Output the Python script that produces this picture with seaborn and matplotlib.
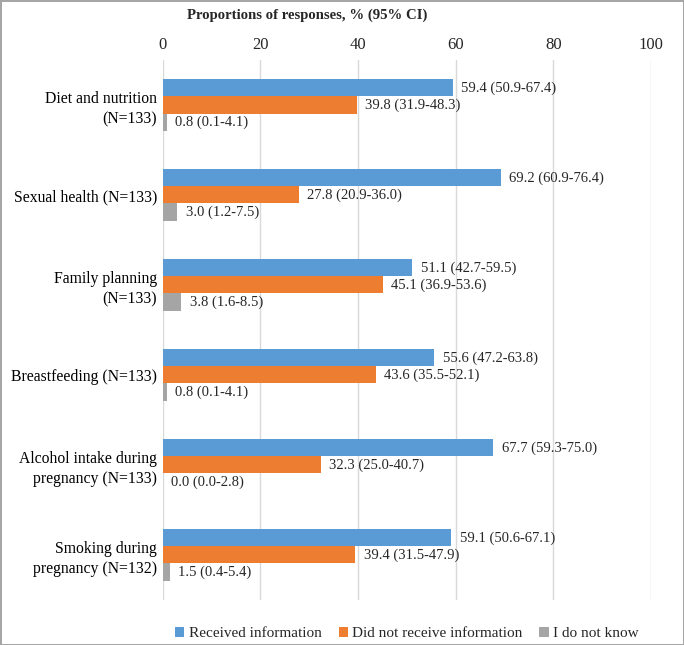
import pandas as pd
import matplotlib.pyplot as plt
import seaborn as sns

topics = [
    "Diet and nutrition\n(N=133)",
    "Sexual health (N=133)",
    "Family planning\n(N=133)",
    "Breastfeeding (N=133)",
    "Alcohol intake during\npregnancy (N=133)",
    "Smoking during\npregnancy (N=132)",
]
responses = ["Received information", "Did not receive information", "I do not know"]

received = [59.4, 69.2, 51.1, 55.6, 67.7, 59.1]
received_ci = ["50.9-67.4", "60.9-76.4", "42.7-59.5", "47.2-63.8", "59.3-75.0", "50.6-67.1"]
not_received = [39.8, 27.8, 45.1, 43.6, 32.3, 39.4]
not_received_ci = ["31.9-48.3", "20.9-36.0", "36.9-53.6", "35.5-52.1", "25.0-40.7", "31.5-47.9"]
dont_know = [0.8, 3.0, 3.8, 0.8, 0.0, 1.5]
dont_know_ci = ["0.1-4.1", "1.2-7.5", "1.6-8.5", "0.1-4.1", "0.0-2.8", "0.4-5.4"]

colors = ["#5B9BD5", "#ED7D31", "#A5A5A5"]

series = [(received, received_ci), (not_received, not_received_ci), (dont_know, dont_know_ci)]
rows = []
for resp, (vals, cis) in zip(responses, series):
    for t, v, ci in zip(topics, vals, cis):
        rows.append({"topic": t, "response": resp, "value": v, "ci": ci})
df = pd.DataFrame(rows)

sns.set_theme(style="white")
plt.rcParams["font.family"] = ["Liberation Serif", "DejaVu Serif"]

fig = plt.figure(figsize=(6.84, 6.45), dpi=100)
ax = fig.add_axes([0.238, 0.070, 0.714, 0.837])

sns.barplot(data=df, y="topic", x="value", hue="response", orient="h",
            order=topics, hue_order=responses, palette=colors,
            width=0.57, linewidth=0, saturation=1, errorbar=None, ax=ax)

for cont, (vals, cis) in zip(ax.containers, series):
    labels = [f"{v:.1f} ({ci})" for v, ci in zip(vals, cis)]
    ax.bar_label(cont, labels=labels, padding=6, fontsize=10.5, color="#262626")

ax.set_xlim(0, 100)
ax.set_xticks([0, 20, 40, 60, 80, 100])
ax.xaxis.tick_top()
ax.tick_params(axis="x", length=0, pad=5, labelsize=12, colors="#262626")
ax.tick_params(axis="y", length=0, pad=4, labelsize=11.3, colors="#000000")
for lab in ax.get_yticklabels():
    lab.set_multialignment("right")
    lab.set_linespacing(1.35)
ax.grid(axis="x", color="#D9D9D9", linewidth=1)
ax.set_axisbelow(True)
for s in ax.spines.values():
    s.set_visible(False)
ax.set_xlabel("")
ax.set_ylabel("")

ax.legend(loc="center", bbox_to_anchor=(0.5, -0.063), ncol=3, frameon=False,
          fontsize=11, handlelength=0.6, handleheight=0.6, handletextpad=0.3,
          columnspacing=1.1)

fig.text(0.449, 0.976, "Proportions of responses, % (95% CI)", ha="center",
         va="center", fontsize=10.6, fontweight="bold")

fig.patch.set_edgecolor("#A6A6A6")
fig.patch.set_linewidth(2)

fig.savefig("out.png", dpi=100)
